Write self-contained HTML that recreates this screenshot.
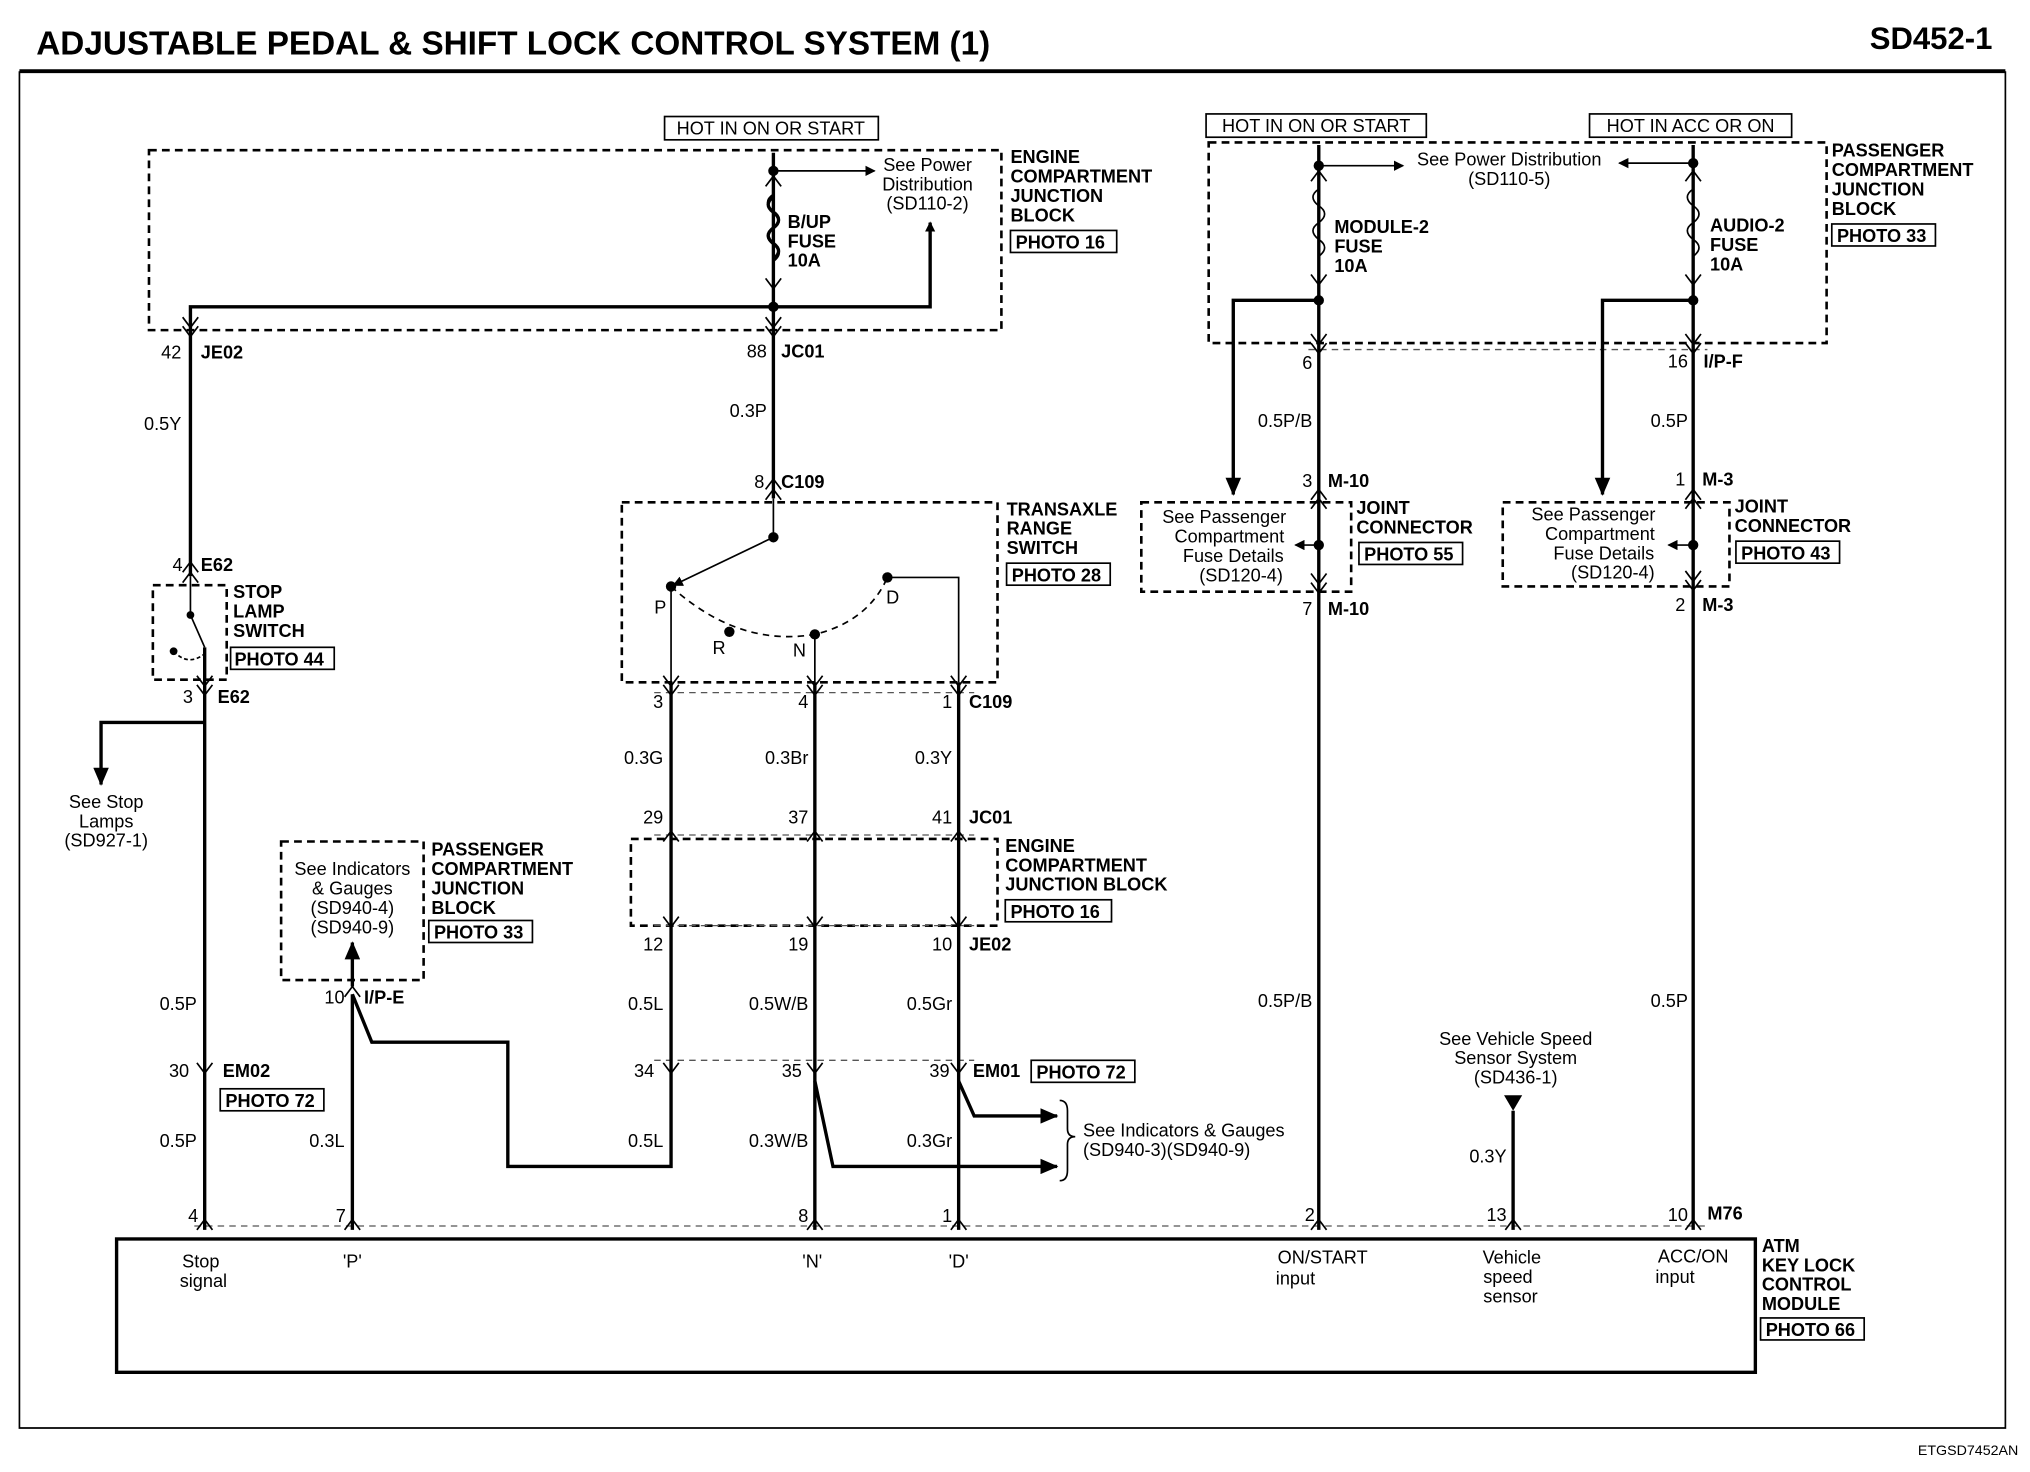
<!DOCTYPE html>
<html><head><meta charset="utf-8"><style>
html,body{margin:0;padding:0;background:#fff;}
svg{display:block;}
text{font-family:"Liberation Sans",Arial,sans-serif;font-size:14px;fill:#000;}
.b{font-weight:bold;}
.e{text-anchor:end;}
.m{text-anchor:middle;}
.w{stroke:#000;stroke-width:2.6;fill:none;}
.t{stroke:#000;stroke-width:1.3;fill:none;}
.d{stroke:#000;stroke-width:2;fill:none;stroke-dasharray:6,4;}
.dl{stroke:#555;stroke-width:1;fill:none;stroke-dasharray:5,4;}
.bx{stroke:#000;stroke-width:1.3;fill:#fff;}
</style></head><body>
<svg width="2030" height="1472" viewBox="0 0 1567 1137" preserveAspectRatio="none" xmlns="http://www.w3.org/2000/svg">
<defs>
<marker id="ar" markerWidth="8" markerHeight="8" refX="7" refY="4" orient="auto" markerUnits="userSpaceOnUse"><path d="M0,0 L8,4 L0,8z" fill="#000"/></marker>
<marker id="ar2" markerWidth="14" markerHeight="12" refX="13" refY="6" orient="auto" markerUnits="userSpaceOnUse"><path d="M0,0 L14,6 L0,12z" fill="#000"/></marker>
</defs>
<rect x="0" y="0" width="1567" height="1137" fill="#fff"/>
<text x="28" y="42" class="b" style="font-size:25.7px">ADJUSTABLE PEDAL &amp; SHIFT LOCK CONTROL SYSTEM (1)</text>
<text x="1538" y="38" class="b e" style="font-size:24px">SD452-1</text>
<line x1="15" y1="55" x2="1548" y2="55" stroke="#000" stroke-width="3"/>
<polyline points="15,55 15,1103 1548,1103 1548,55" class="t"/>
<text x="1558" y="1124" class="e" style="font-size:11px">ETGSD7452AN</text>

<rect x="115" y="116" width="658" height="139" class="d"/>
<rect x="118" y="452" width="57" height="73" class="d"/>
<rect x="480" y="388" width="290" height="139" class="d"/>
<rect x="487" y="648" width="283" height="67" class="d"/>
<rect x="217" y="650" width="110" height="107" class="d"/>
<rect x="933" y="110" width="477" height="155" class="d"/>
<rect x="881" y="388" width="162" height="69" class="d"/>
<rect x="1160" y="388" width="175" height="65" class="d"/>
<line x1="505" y1="535" x2="752" y2="535" class="dl"/>
<line x1="505" y1="645" x2="752" y2="645" class="dl"/>
<line x1="505" y1="715" x2="752" y2="715" class="dl"/>
<line x1="505" y1="819" x2="752" y2="819" class="dl"/>
<line x1="150" y1="947" x2="1318" y2="947" class="dl"/>
<line x1="1010" y1="270" x2="1318" y2="270" class="dl"/>

<polyline points="597,118 597,385" class="w"/>
<line x1="597" y1="132" x2="675" y2="132" class="t" marker-end="url(#ar)"/>
<circle cx="597" cy="132" r="4"/>
<polyline points="147,445 147,237 718,237 718,172" class="w" marker-end="url(#ar)"/>
<circle cx="597" cy="237" r="4"/>
<path d="M597,152 q-8,6 0,12 q8,6 0,12 q-8,6 0,12 q8,6 0,12" class="w" fill="#fff" stroke="#fff" stroke-width="6"/>
<path d="M597,150 q-9,6 0,13 q9,6 0,13 q-9,6 0,13 q9,6 0,13" class="t"/>
<line x1="147" y1="445" x2="147" y2="475" class="t"/>
<circle cx="147" cy="475" r="3"/>
<line x1="147" y1="475" x2="158" y2="500" class="t"/>
<circle cx="134" cy="503" r="3"/>
<path d="M134,503 Q145,515 158,505" class="t" stroke-dasharray="3,2"/>
<polyline points="158,500 158,950" class="w"/>
<polyline points="158,558 78,558 78,606" class="w" marker-end="url(#ar2)"/>
<line x1="597" y1="385" x2="597" y2="415" class="t"/>
<circle cx="597" cy="415" r="4"/>
<line x1="597" y1="415" x2="520" y2="452" class="t" marker-end="url(#ar)"/>
<circle cx="518" cy="453" r="4"/><circle cx="563" cy="488" r="4"/><circle cx="629" cy="490" r="4"/><circle cx="685" cy="446" r="4"/>
<path d="M518,453 Q570,500 629,490 Q670,480 685,446" class="t" stroke-dasharray="5,4"/>
<polyline points="685,446 740,446 740,527" class="t"/>
<line x1="518" y1="453" x2="518" y2="527" class="t"/>
<line x1="629" y1="490" x2="629" y2="527" class="t"/>
<polyline points="518,527 518,901 392,901 392,805 287,805 272,768" class="w"/>
<line x1="272" y1="768" x2="272" y2="950" class="w"/>
<line x1="272" y1="762" x2="272" y2="728" class="w" marker-end="url(#ar2)"/>
<line x1="629" y1="527" x2="629" y2="950" class="w"/>
<polyline points="629,835 643,901 816,901" class="w" marker-end="url(#ar2)"/>
<line x1="740" y1="527" x2="740" y2="950" class="w"/>
<polyline points="740,835 752,862 816,862" class="w" marker-end="url(#ar2)"/>
<path d="M818,850 q6,0 6,8 v14 q0,6 6,6 q-6,0 -6,6 v20 q0,8 -6,8" class="t"/>

<line x1="1018" y1="112" x2="1018" y2="950" class="w"/>
<line x1="1018" y1="128" x2="1083" y2="128" class="t" marker-end="url(#ar)"/>
<circle cx="1018" cy="128" r="4"/>
<path d="M1018,146 q-9,6 0,13 q9,6 0,13 q-9,6 0,13 q9,6 0,13" class="t"/>
<circle cx="1018" cy="232" r="4"/>
<polyline points="1018,232 952,232 952,382" class="w" marker-end="url(#ar2)"/>
<line x1="1307" y1="112" x2="1307" y2="950" class="w"/>
<line x1="1307" y1="126" x2="1250" y2="126" class="t" marker-end="url(#ar)"/>
<circle cx="1307" cy="126" r="4"/>
<path d="M1307,146 q-9,6 0,13 q9,6 0,13 q-9,6 0,13 q9,6 0,13" class="t"/>
<circle cx="1307" cy="232" r="4"/>
<polyline points="1307,232 1237,232 1237,382" class="w" marker-end="url(#ar2)"/>
<circle cx="1018" cy="421" r="4"/><line x1="1018" y1="421" x2="1000" y2="421" class="t" marker-end="url(#ar)"/>
<circle cx="1307" cy="421" r="4"/><line x1="1307" y1="421" x2="1288" y2="421" class="t" marker-end="url(#ar)"/>
<line x1="1168" y1="858" x2="1168" y2="950" class="w"/>
<path d="M1161,846 L1175,846 L1168,858z"/>
<rect x="90" y="957" width="1265" height="103" class="w"/>

<g class="t">
<path d="M141,245 l6,8 l6,-8 M141,252 l6,8 l6,-8"/>
<path d="M591,245 l6,8 l6,-8 M591,252 l6,8 l6,-8"/>
<path d="M591,144 l6,-8 l6,8 M591,215 l6,8 l6,-8"/>
<path d="M591,386 l6,-8 l6,8 M591,378 l6,-8 l6,8"/>
<path d="M141,450 l6,-8 l6,8 M141,442 l6,-8 l6,8"/>
<path d="M152,522 l6,8 l6,-8 M152,529 l6,8 l6,-8"/>
<path d="M512,522 l6,8 l6,-8 M512,529 l6,8 l6,-8"/>
<path d="M623,522 l6,8 l6,-8 M623,529 l6,8 l6,-8"/>
<path d="M734,522 l6,8 l6,-8 M734,529 l6,8 l6,-8"/>
<path d="M512,650 l6,-8 l6,8 M623,650 l6,-8 l6,8 M734,650 l6,-8 l6,8"/>
<path d="M512,708 l6,8 l6,-8 M623,708 l6,8 l6,-8 M734,708 l6,8 l6,-8"/>
<path d="M512,821 l6,8 l6,-8 M623,821 l6,8 l6,-8 M734,821 l6,8 l6,-8"/>
<path d="M152,821 l6,8 l6,-8 M266,770 l6,-8 l6,8"/>
<path d="M152,950 l6,-8 l6,8 M266,950 l6,-8 l6,8 M623,950 l6,-8 l6,8 M734,950 l6,-8 l6,8 M1012,950 l6,-8 l6,8 M1162,950 l6,-8 l6,8 M1301,950 l6,-8 l6,8"/>
<path d="M1012,140 l6,-8 l6,8 M1012,212 l6,8 l6,-8 M1301,140 l6,-8 l6,8 M1301,212 l6,8 l6,-8"/>
<path d="M1012,258 l6,8 l6,-8 M1012,265 l6,8 l6,-8 M1301,258 l6,8 l6,-8 M1301,265 l6,8 l6,-8"/>
<path d="M1012,386 l6,-8 l6,8 M1012,393 l6,-8 l6,8 M1301,386 l6,-8 l6,8 M1301,393 l6,-8 l6,8"/>
<path d="M1012,450 l6,8 l6,-8 M1012,443 l6,8 l6,-8 M1301,448 l6,8 l6,-8 M1301,441 l6,8 l6,-8"/>
</g>

<rect x="513" y="90" width="165" height="18" class="bx"/><text x="595" y="104" class="m">HOT IN ON OR START</text>
<rect x="931" y="88" width="170" height="18" class="bx"/><text x="1016" y="102" class="m">HOT IN ON OR START</text>
<rect x="1227" y="88" width="156" height="18" class="bx"/><text x="1305" y="102" class="m">HOT IN ACC OR ON</text>

<text x="716" y="132" class="m">See Power</text><text x="716" y="147" class="m">Distribution</text><text x="716" y="162" class="m">(SD110-2)</text>
<text x="608" y="176" class="b">B/UP</text><text x="608" y="191" class="b">FUSE</text><text x="608" y="206" class="b">10A</text>
<text x="780" y="126" class="b">ENGINE</text><text x="780" y="141" class="b">COMPARTMENT</text><text x="780" y="156" class="b">JUNCTION</text><text x="780" y="171" class="b">BLOCK</text>
<rect x="780" y="178" width="82" height="17" class="bx"/><text x="784" y="192" class="b">PHOTO 16</text>
<text x="140" y="277" class="e">42</text><text x="155" y="277" class="b">JE02</text>
<text x="140" y="332" class="e">0.5Y</text>
<text x="592" y="276" class="e">88</text><text x="603" y="276" class="b">JC01</text>
<text x="592" y="322" class="e">0.3P</text>
<text x="590" y="377" class="e">8</text><text x="603" y="377" class="b">C109</text>
<text x="141" y="441" class="e">4</text><text x="155" y="441" class="b">E62</text>
<text x="180" y="462" class="b">STOP</text><text x="180" y="477" class="b">LAMP</text><text x="180" y="492" class="b">SWITCH</text>
<rect x="178" y="500" width="80" height="17" class="bx"/><text x="181" y="514" class="b">PHOTO 44</text>
<text x="149" y="543" class="e">3</text><text x="168" y="543" class="b">E62</text>
<text x="82" y="624" class="m">See Stop</text><text x="82" y="639" class="m">Lamps</text><text x="82" y="654" class="m">(SD927-1)</text>
<text x="272" y="676" class="m">See Indicators</text><text x="272" y="691" class="m">&amp; Gauges</text><text x="272" y="706" class="m">(SD940-4)</text><text x="272" y="721" class="m">(SD940-9)</text>
<text x="333" y="661" class="b">PASSENGER</text><text x="333" y="676" class="b">COMPARTMENT</text><text x="333" y="691" class="b">JUNCTION</text><text x="333" y="706" class="b">BLOCK</text>
<rect x="331" y="711" width="80" height="17" class="bx"/><text x="335" y="725" class="b">PHOTO 33</text>
<text x="266" y="775" class="e">10</text><text x="281" y="775" class="b">I/P-E</text>
<text x="152" y="780" class="e">0.5P</text>
<text x="146" y="832" class="e">30</text><text x="172" y="832" class="b">EM02</text>
<rect x="170" y="841" width="80" height="17" class="bx"/><text x="174" y="855" class="b">PHOTO 72</text>
<text x="152" y="886" class="e">0.5P</text><text x="266" y="886" class="e">0.3L</text>
<text x="153" y="944" class="e">4</text><text x="267" y="944" class="e">7</text>
<text x="777" y="398" class="b">TRANSAXLE</text><text x="777" y="413" class="b">RANGE</text><text x="777" y="428" class="b">SWITCH</text>
<rect x="777" y="435" width="80" height="17" class="bx"/><text x="781" y="449" class="b">PHOTO 28</text>
<text x="505" y="474">P</text><text x="550" y="505">R</text><text x="612" y="507">N</text><text x="684" y="466">D</text>
<text x="512" y="547" class="e">3</text><text x="624" y="547" class="e">4</text><text x="735" y="547" class="e">1</text><text x="748" y="547" class="b">C109</text>
<text x="512" y="590" class="e">0.3G</text><text x="624" y="590" class="e">0.3Br</text><text x="735" y="590" class="e">0.3Y</text>
<text x="512" y="636" class="e">29</text><text x="624" y="636" class="e">37</text><text x="735" y="636" class="e">41</text><text x="748" y="636" class="b">JC01</text>
<text x="776" y="658" class="b">ENGINE</text><text x="776" y="673" class="b">COMPARTMENT</text><text x="776" y="688" class="b">JUNCTION BLOCK</text>
<rect x="776" y="695" width="82" height="17" class="bx"/><text x="780" y="709" class="b">PHOTO 16</text>
<text x="512" y="734" class="e">12</text><text x="624" y="734" class="e">19</text><text x="735" y="734" class="e">10</text><text x="748" y="734" class="b">JE02</text>
<text x="512" y="780" class="e">0.5L</text><text x="624" y="780" class="e">0.5W/B</text><text x="735" y="780" class="e">0.5Gr</text>
<text x="505" y="832" class="e">34</text><text x="619" y="832" class="e">35</text><text x="733" y="832" class="e">39</text><text x="751" y="832" class="b">EM01</text>
<rect x="796" y="819" width="80" height="17" class="bx"/><text x="800" y="833" class="b">PHOTO 72</text>
<text x="512" y="886" class="e">0.5L</text><text x="624" y="886" class="e">0.3W/B</text><text x="735" y="886" class="e">0.3Gr</text>
<text x="836" y="878">See Indicators &amp; Gauges</text><text x="836" y="893">(SD940-3)(SD940-9)</text>
<text x="624" y="944" class="e">8</text><text x="735" y="944" class="e">1</text>

<text x="155" y="979" class="m">Stop</text><text x="157" y="994" class="m">signal</text>
<text x="272" y="979" class="m">'P'</text><text x="627" y="979" class="m">'N'</text><text x="740" y="979" class="m">'D'</text>
<text x="1021" y="976" class="m">ON/START</text><text x="1000" y="992" class="m">input</text>
<text x="1167" y="976" class="m">Vehicle</text><text x="1164" y="991" class="m">speed</text><text x="1166" y="1006" class="m">sensor</text>
<text x="1307" y="975" class="m">ACC/ON</text><text x="1293" y="991" class="m">input</text>
<text x="1360" y="967" class="b">ATM</text><text x="1360" y="982" class="b">KEY LOCK</text><text x="1360" y="997" class="b">CONTROL</text><text x="1360" y="1012" class="b">MODULE</text>
<rect x="1359" y="1018" width="80" height="17" class="bx"/><text x="1363" y="1032" class="b">PHOTO 66</text>

<text x="1165" y="128" class="m">See Power Distribution</text><text x="1165" y="143" class="m">(SD110-5)</text>
<text x="1030" y="180" class="b">MODULE-2</text><text x="1030" y="195" class="b">FUSE</text><text x="1030" y="210" class="b">10A</text>
<text x="1320" y="179" class="b">AUDIO-2</text><text x="1320" y="194" class="b">FUSE</text><text x="1320" y="209" class="b">10A</text>
<text x="1414" y="121" class="b">PASSENGER</text><text x="1414" y="136" class="b">COMPARTMENT</text><text x="1414" y="151" class="b">JUNCTION</text><text x="1414" y="166" class="b">BLOCK</text>
<rect x="1414" y="173" width="80" height="17" class="bx"/><text x="1418" y="187" class="b">PHOTO 33</text>
<text x="1013" y="285" class="e">6</text>
<text x="1303" y="284" class="e">16</text><text x="1315" y="284" class="b">I/P-F</text>
<text x="1013" y="330" class="e">0.5P/B</text><text x="1303" y="330" class="e">0.5P</text>
<text x="1013" y="376" class="e">3</text><text x="1025" y="376" class="b">M-10</text>
<text x="1301" y="375" class="e">1</text><text x="1314" y="375" class="b">M-3</text>
<text x="1047" y="397" class="b">JOINT</text><text x="1047" y="412" class="b">CONNECTOR</text>
<rect x="1049" y="419" width="80" height="17" class="bx"/><text x="1053" y="433" class="b">PHOTO 55</text>
<text x="1339" y="396" class="b">JOINT</text><text x="1339" y="411" class="b">CONNECTOR</text>
<rect x="1340" y="418" width="80" height="17" class="bx"/><text x="1344" y="432" class="b">PHOTO 43</text>
<text x="945" y="404" class="m">See Passenger</text><text x="949" y="419" class="m">Compartment</text><text x="952" y="434" class="m">Fuse Details</text><text x="958" y="449" class="m">(SD120-4)</text>
<text x="1230" y="402" class="m">See Passenger</text><text x="1235" y="417" class="m">Compartment</text><text x="1238" y="432" class="m">Fuse Details</text><text x="1245" y="447" class="m">(SD120-4)</text>
<text x="1013" y="475" class="e">7</text><text x="1025" y="475" class="b">M-10</text>
<text x="1301" y="472" class="e">2</text><text x="1314" y="472" class="b">M-3</text>
<text x="1013" y="778" class="e">0.5P/B</text><text x="1303" y="778" class="e">0.5P</text>
<text x="1170" y="807" class="m">See Vehicle Speed</text><text x="1170" y="822" class="m">Sensor System</text><text x="1170" y="837" class="m">(SD436-1)</text>
<text x="1163" y="898" class="e">0.3Y</text>
<text x="1015" y="943" class="e">2</text><text x="1163" y="943" class="e">13</text><text x="1303" y="943" class="e">10</text><text x="1318" y="942" class="b">M76</text>
</svg>
</body></html>
